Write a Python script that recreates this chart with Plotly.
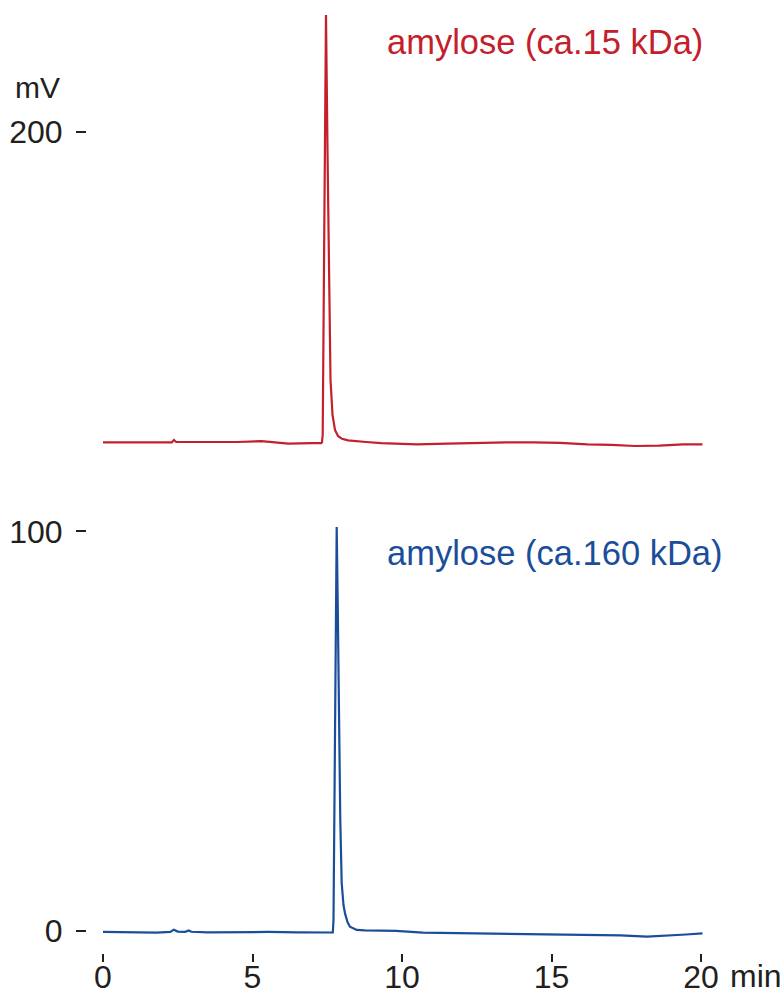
import plotly.graph_objects as go

# Retention time (min) and detector signal (mV)
t_15k = [0, 1.0, 2.0, 2.3, 2.37, 2.45, 3.5, 4.5, 5.3, 5.8, 6.2, 7.0, 7.3, 7.324, 7.348,
         7.401, 7.458, 7.508, 7.559, 7.609, 7.676, 7.759, 7.860, 7.993, 8.194, 8.428,
         8.8, 9.3, 9.9, 10.5, 11.5, 12.5, 13.5, 14.4, 15.3, 16.2, 17.0, 17.8, 18.6,
         19.4, 20.05]
mv_15k = [122.3, 122.3, 122.2, 122.3, 122.9, 122.4, 122.4, 122.4, 122.6, 122.3, 122.0,
          122.1, 122.1, 122.3, 124.2, 175.5, 229.3, 195.5, 157.9, 137.9, 129.2, 125.4,
          123.9, 123.2, 122.8, 122.6, 122.4, 122.1, 121.9, 121.8, 122.0, 122.2, 122.3,
          122.3, 122.2, 121.8, 121.7, 121.4, 121.5, 121.8, 121.8]

t_160k = [0, 1.0, 1.8, 2.25, 2.37, 2.5, 2.75, 2.87, 2.95, 3.5, 4.5, 5.5, 6.5, 7.5, 7.686,
          7.709, 7.742, 7.783, 7.816, 7.849, 7.893, 7.936, 7.983, 8.043, 8.094, 8.177,
          8.26, 8.485, 8.76, 9.26, 9.8, 10.7, 11.5, 12.5, 13.7, 15.0, 16.4, 17.3, 18.2,
          18.8, 19.5, 20.05]
mv_160k = [-0.25, -0.3, -0.43, -0.25, 0.33, -0.15, -0.2, 0.13, -0.2, -0.33, -0.25, -0.25,
           -0.33, -0.38, -0.38, 2.75, 32.8, 77.8, 101.1, 82.9, 52.8, 27.8, 12.0, 6.5,
           4.4, 2.25, 1.08, 0.25, 0.13, 0.0, 0.0, -0.43, -0.5, -0.7, -0.83, -0.83,
           -0.93, -1.08, -1.43, -1.25, -0.88, -0.58]

x_ticks = [0, 5, 10, 15, 20]
y_ticks = [0, 100, 200]
label_15k = "amylose (ca.15 kDa)"
label_160k = "amylose (ca.160 kDa)"

RED = "#C4202C"
BLUE = "#1A4E9B"
TXT = "#231F20"
FONT = "Liberation Sans, Arial, sans-serif"

fig = go.Figure()
fig.add_trace(go.Scatter(x=t_15k, y=mv_15k, mode="lines",
                         line=dict(color=RED, width=2.2), showlegend=False))
fig.add_trace(go.Scatter(x=t_160k, y=mv_160k, mode="lines",
                         line=dict(color=BLUE, width=2.2), showlegend=False))

fig.update_layout(
    width=784, height=994,
    margin=dict(l=87, r=72, t=8, b=0),
    paper_bgcolor="white", plot_bgcolor="white",
    font=dict(family=FONT, color=TXT, size=32),
    xaxis=dict(range=[-0.535, 20.368], tickvals=x_ticks, ticks="inside",
               ticklen=8, tickwidth=1.8, tickcolor=TXT, showgrid=False,
               zeroline=False, showline=False, tickfont=dict(size=32),
               ticklabelstandoff=-7, anchor="free", position=0.0325,
               automargin=False),
    yaxis=dict(range=[-5.757, 231.04], domain=[0.0406, 1], tickvals=y_ticks,
               ticks="outside", ticklen=10, tickwidth=1.5, tickcolor=TXT,
               showgrid=False, zeroline=False, showline=False,
               tickfont=dict(size=32), ticklabelstandoff=7, automargin=False),
    annotations=[
        dict(text="mV", xref="paper", yref="paper", x=-0.08, y=0.9189,
             xanchor="center", yanchor="middle", showarrow=False,
             font=dict(size=30, color=TXT)),
        dict(text="min", xref="paper", yref="paper", x=1.0256, y=0.0183,
             xanchor="left", yanchor="middle", showarrow=False,
             font=dict(size=32, color=TXT)),
        dict(text=label_15k, xref="paper", yref="paper", x=0.4768, y=0.9655,
             xanchor="left", yanchor="middle", showarrow=False,
             font=dict(size=34.5, color=RED)),
        dict(text=label_160k, xref="paper", yref="paper", x=0.4768, y=0.4473,
             xanchor="left", yanchor="middle", showarrow=False,
             font=dict(size=34.5, color=BLUE)),
    ],
)

fig.write_html("out.html", config={"displayModeBar": False},
               post_script="document.body.style.margin='0';document.body.style.overflow='hidden';")
